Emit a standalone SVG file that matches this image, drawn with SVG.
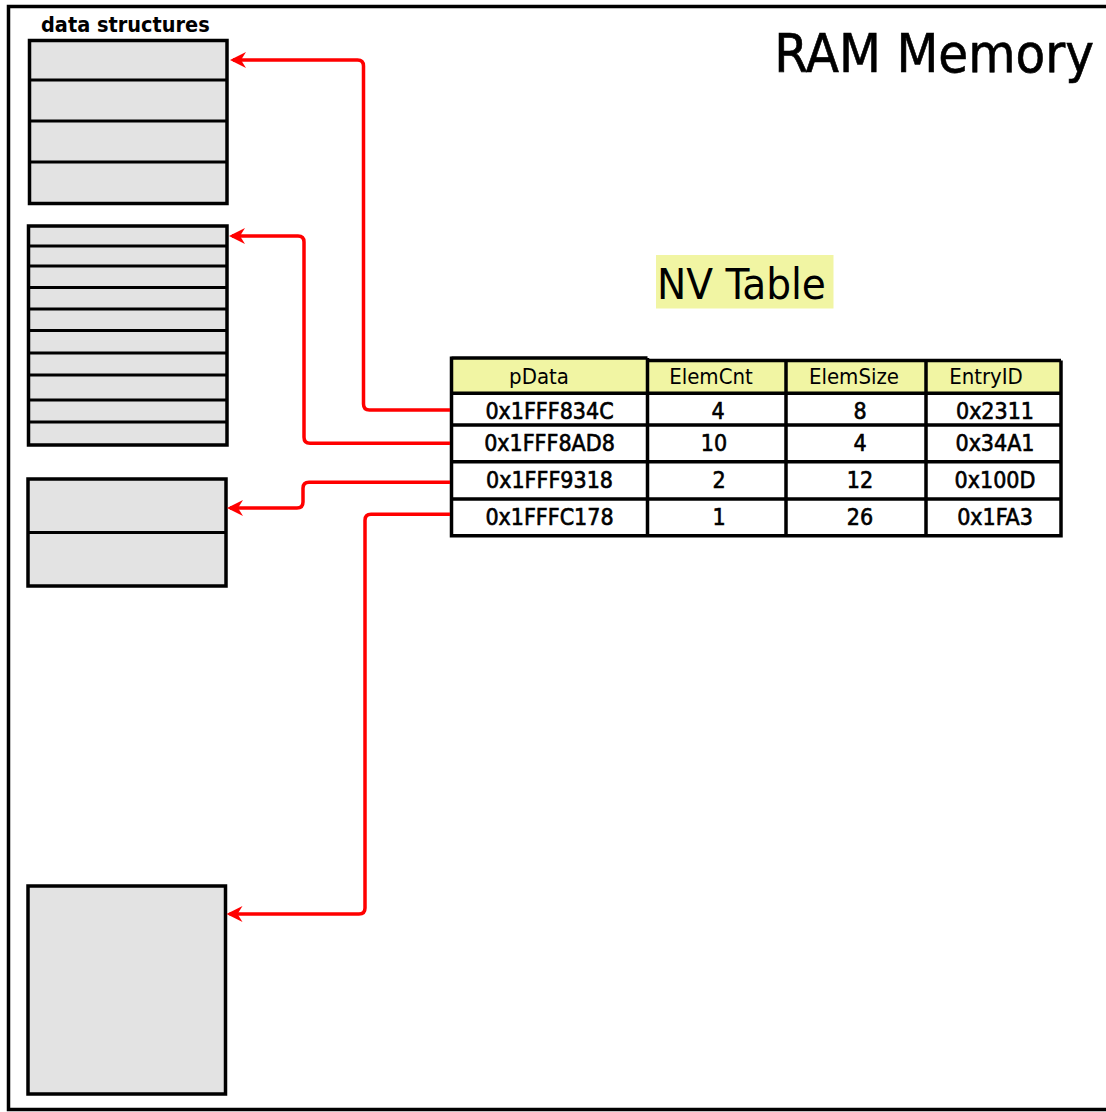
<svg xmlns="http://www.w3.org/2000/svg" width="1106" height="1112" viewBox="0 0 1106 1112">
<style>
  .frame{fill:none;stroke:#000;stroke-width:3.5}
  .box{fill:#e3e3e3;stroke:#000;stroke-width:3.5}
  .div{fill:none;stroke:#000;stroke-width:3}
  .hdr{fill:#f1f5a3}
  .cell{fill:#fff}
  .grid{fill:none;stroke:#000;stroke-width:3.5}
  .wire{fill:none;stroke:#ff0000;stroke-width:3.5;stroke-linejoin:round}
  .t{font-family:"DejaVu Sans Condensed","DejaVu Sans","Liberation Sans",sans-serif;fill:#000}
  .h{font-size:22px;text-anchor:middle}
  .v{font-size:23px;text-anchor:middle;stroke:#000;stroke-width:0.6}
</style>
<defs>
  <marker id="ah" markerUnits="userSpaceOnUse" markerWidth="24" markerHeight="20" viewBox="-18 -10 24 20" refX="-3" refY="0" orient="auto">
    <path d="M0,0 L-16,-8 L-11,0 L-16,8 Z" fill="#ff0000"/>
  </marker>
</defs>
<rect width="1106" height="1112" fill="#fff"/>
<rect class="frame" x="8.5" y="6.5" width="1110" height="1103"/>

<text class="t" x="1094" y="71.5" font-size="54" text-anchor="end" stroke="#000" stroke-width="0.6">RAM Memory</text>
<text class="t" x="41" y="31.5" font-size="21.5" font-weight="bold">data structures</text>

<g id="ds1">
  <rect class="box" x="29.5" y="40.5" width="197.5" height="163"/>
  <path class="div" d="M29.5,80H227M29.5,121H227M29.5,162H227"/>
</g>
<g id="ds2">
  <rect class="box" x="28.5" y="226" width="198.5" height="219"/>
  <path class="div" d="M28.5,246H227M28.5,266H227M28.5,287.5H227M28.5,309H227M28.5,330.5H227M28.5,353H227M28.5,375H227M28.5,400H227M28.5,422H227"/>
</g>
<g id="ds3">
  <rect class="box" x="28" y="479" width="198" height="107"/>
  <path class="div" d="M28,532.5H226"/>
</g>
<g id="ds4">
  <rect class="box" x="28" y="886" width="197.5" height="208"/>
</g>

<g id="nv-title">
  <rect x="656" y="255" width="177.5" height="53.5" fill="#f1f5a3"/>
  <text class="t" x="657" y="298.5" font-size="43.5">NV Table</text>
</g>

<g id="nv-table">
  <rect class="hdr" x="451.5" y="358" width="196" height="35.5"/>
  <rect class="hdr" x="647.5" y="360.5" width="413.5" height="33"/>
  <rect class="cell" x="451.5" y="393.5" width="609.5" height="142"/>
  <path class="grid" d="M451.5,358H647.5M647.5,360.5H1061M451.5,356.5V535.8H1061V360.5M647.5,358V535.8M786,360.5V535.8M926,360.5V535.8M451.5,393.3H1061M451.5,425H1061M451.5,461.7H1061M451.5,499H1061"/>
  <text class="t h" x="539" y="384">pData</text>
  <text class="t h" x="711" y="384">ElemCnt</text>
  <text class="t h" x="854" y="384">ElemSize</text>
  <text class="t h" x="986" y="384">EntryID</text>

  <text class="t v" x="549.5" y="419">0x1FFF834C</text>
  <text class="t v" x="718" y="419">4</text>
  <text class="t v" x="860" y="419">8</text>
  <text class="t v" x="995" y="419">0x2311</text>

  <text class="t v" x="549.5" y="451">0x1FFF8AD8</text>
  <text class="t v" x="714" y="451">10</text>
  <text class="t v" x="860" y="451">4</text>
  <text class="t v" x="995" y="451">0x34A1</text>

  <text class="t v" x="549.5" y="488">0x1FFF9318</text>
  <text class="t v" x="719" y="488">2</text>
  <text class="t v" x="860" y="488">12</text>
  <text class="t v" x="995" y="488">0x100D</text>

  <text class="t v" x="549.5" y="524.5">0x1FFFC178</text>
  <text class="t v" x="719" y="524.5">1</text>
  <text class="t v" x="860" y="524.5">26</text>
  <text class="t v" x="995" y="524.5">0x1FA3</text>
</g>

<g id="connectors">
  <path class="wire" marker-end="url(#ah)" d="M450,410 H369.5 Q363.5,410 363.5,404 V66 Q363.5,60 357.5,60 H233"/>
  <path class="wire" marker-end="url(#ah)" d="M450,443.3 H310 Q304,443.3 304,437.3 V242 Q304,236 298,236 H232"/>
  <path class="wire" marker-end="url(#ah)" d="M450,482.3 H309 Q303,482.3 303,488.3 V502 Q303,508 297,508 H230"/>
  <path class="wire" marker-end="url(#ah)" d="M450,514.3 H371 Q365,514.3 365,520.3 V908 Q365,914 359,914 H229.5"/>
</g>
</svg>
